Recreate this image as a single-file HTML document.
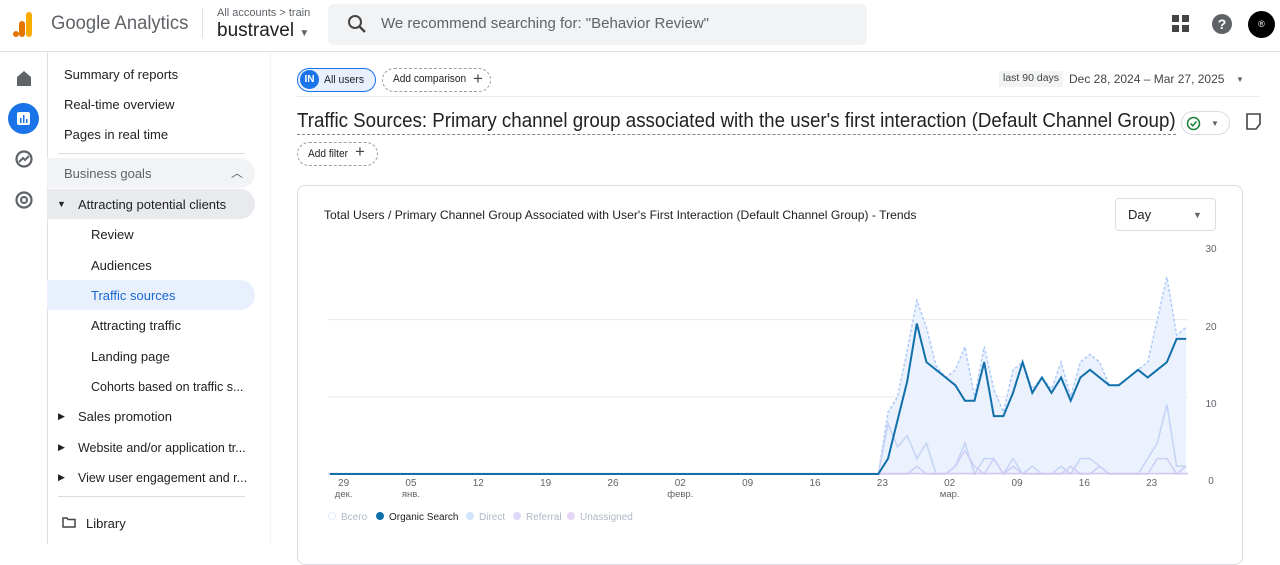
<!DOCTYPE html>
<html><head><meta charset="utf-8"><style>
*{box-sizing:border-box;margin:0;padding:0}
body{width:1280px;height:544px;overflow:hidden;background:#fff;font-family:"Liberation Sans",Arial,sans-serif;color:#202124;position:relative}
.a{position:absolute;white-space:nowrap}
.sx{display:inline-block;transform-origin:left center}
.nav{font-size:13px;color:#202124}
.ar{font-size:9px;color:#202124}
</style></head><body>
<div class="a" style="left:0;top:0;width:1280px;height:52px;border-bottom:1px solid #e0e0e0"></div>
<svg class="a" style="left:12px;top:12px" width="24" height="26"><rect x="14" y="0" width="6" height="25" rx="3" fill="#f9ab00"/><rect x="7" y="9" width="6" height="16" rx="3" fill="#e37400"/><circle cx="4" cy="22" r="3" fill="#e37400"/></svg>
<div class="a" style="left:51px;top:13px;font-size:19px;color:#5f6368"><span class="sx" style="transform:scaleX(.97)">Google Analytics</span></div>
<div class="a" style="left:202px;top:8px;width:1px;height:30px;background:#e0e0e0"></div>
<div class="a" style="left:217px;top:7px;font-size:11px;color:#5f6368">All accounts &gt; train</div>
<div class="a" style="left:217px;top:20px;font-size:19px;color:#202124">bustravel <span style="font-size:10px;color:#5f6368">▼</span></div>
<div class="a" style="left:328px;top:4px;width:539px;height:41px;background:#f1f3f4;border-radius:6px"></div>
<svg class="a" style="left:347px;top:14px" width="20" height="20"><circle cx="8" cy="8" r="6" stroke="#444" stroke-width="2" fill="none"/><line x1="12" y1="12" x2="18" y2="18" stroke="#444" stroke-width="2.4"/></svg>
<div class="a" style="left:381px;top:15px;font-size:15px;color:#5f6368">We recommend searching for: "Behavior Review"</div>
<svg class="a" style="left:1172px;top:15px" width="18" height="18"><g fill="#444"><rect x="0" y="0" width="7" height="7"/><rect x="10" y="0" width="7" height="7"/><rect x="0" y="10" width="7" height="7"/><rect x="10" y="10" width="7" height="7"/></g></svg>
<div class="a" style="left:1212px;top:14px;width:20px;height:20px;border-radius:50%;background:#5f6368;color:#fff;font-size:14px;font-weight:bold;text-align:center;line-height:20px">?</div>
<div class="a" style="left:1248px;top:11px;width:27px;height:27px;border-radius:50%;background:#000;color:#fff;font-size:9px;text-align:center;line-height:27px">®</div>
<div class="a" style="left:47px;top:52px;width:1px;height:492px;background:#e0e0e0"></div>
<svg class="a" style="left:15px;top:69px" width="18" height="18"><path d="M2 8 L9 2 L16 8 V17 H2Z" fill="#5f6368"/></svg>
<div class="a" style="left:8px;top:103px;width:31px;height:31px;border-radius:50%;background:#1a73e8"></div>
<svg class="a" style="left:16px;top:111px" width="15" height="15"><rect x="1" y="1" width="13" height="13" rx="2" fill="#fff"/><rect x="4" y="7" width="1.5" height="5" fill="#1a73e8"/><rect x="7" y="4" width="1.5" height="8" fill="#1a73e8"/><rect x="10" y="8" width="1.5" height="4" fill="#1a73e8"/></svg>
<svg class="a" style="left:14px;top:149px" width="20" height="20"><circle cx="10" cy="10" r="7.5" stroke="#5f6368" stroke-width="2.2" fill="none"/><path d="M5 13 L9 9 L11 11 L15 7" stroke="#5f6368" stroke-width="2" fill="none"/></svg>
<svg class="a" style="left:14px;top:190px" width="20" height="20"><circle cx="10" cy="10" r="7.5" stroke="#5f6368" stroke-width="2.2" fill="none"/><circle cx="10" cy="10" r="3" stroke="#5f6368" stroke-width="2" fill="none"/></svg>
<div class="a nav" style="left:64px;top:67px">Summary of reports</div>
<div class="a nav" style="left:64px;top:97px">Real-time overview</div>
<div class="a nav" style="left:64px;top:127px">Pages in real time</div>
<div class="a" style="left:58px;top:153px;width:187px;height:1px;background:#dadce0"></div>
<div class="a" style="left:47px;top:158px;width:208px;height:30px;background:#f1f3f4;border-radius:0 15px 15px 0"></div>
<div class="a nav" style="left:64px;top:166px;color:#5f6368">Business goals</div>
<div class="a" style="left:231px;top:164px;font-size:12px;color:#5f6368">︿</div>
<div class="a" style="left:47px;top:189px;width:208px;height:30px;background:#e8eaed;border-radius:0 15px 15px 0"></div>
<div class="a ar" style="left:57px;top:199px">▼</div>
<div class="a nav" style="left:78px;top:197px">Attracting potential clients</div>
<div class="a nav" style="left:91px;top:227px">Review</div>
<div class="a nav" style="left:91px;top:258px">Audiences</div>
<div class="a" style="left:47px;top:280px;width:208px;height:30px;background:#e8f0fe;border-radius:0 15px 15px 0"></div>
<div class="a nav" style="left:91px;top:288px;color:#1967d2">Traffic sources</div>
<div class="a nav" style="left:91px;top:318px">Attracting traffic</div>
<div class="a nav" style="left:91px;top:349px">Landing page</div>
<div class="a nav" style="left:91px;top:379px"><span class="sx" style="transform:scaleX(.96)">Cohorts based on traffic s...</span></div>
<div class="a ar" style="left:58px;top:411px">▶</div>
<div class="a nav" style="left:78px;top:409px">Sales promotion</div>
<div class="a ar" style="left:58px;top:442px">▶</div>
<div class="a nav" style="left:78px;top:440px"><span class="sx" style="transform:scaleX(.96)">Website and/or application tr...</span></div>
<div class="a ar" style="left:58px;top:472px">▶</div>
<div class="a nav" style="left:78px;top:470px"><span class="sx" style="transform:scaleX(.96)">View user engagement and r...</span></div>
<div class="a" style="left:58px;top:496px;width:187px;height:1px;background:#dadce0"></div>
<svg class="a" style="left:62px;top:517px" width="14" height="11"><path d="M1 1 H5 L6 2.5 H13 V10 H1Z" stroke="#444" stroke-width="1.5" fill="none"/></svg>
<div class="a nav" style="left:86px;top:516px">Library</div>
<div class="a" style="left:270px;top:52px;width:1px;height:492px;background:#f1f3f4"></div>
<div class="a" style="left:297px;top:68px;width:79px;height:24px;border:1px solid #1a73e8;border-radius:12px;background:#e8f0fe"></div>
<div class="a" style="left:300px;top:70px;width:19px;height:19px;border-radius:50%;background:#1a73e8;color:#fff;font-size:10px;font-weight:bold;text-align:center;line-height:19px">IN</div>
<div class="a" style="left:324px;top:74px;font-size:11px"><span class="sx" style="transform:scaleX(.95)">All users</span></div>
<div class="a" style="left:382px;top:68px;width:109px;height:24px;border:1px dashed #9aa0a6;border-radius:12px"></div>
<div class="a" style="left:393px;top:73px;font-size:11px"><span class="sx" style="transform:scaleX(.92)">Add comparison</span></div>
<div class="a" style="left:473px;top:69px;font-size:17px;color:#444">+</div>
<div class="a" style="left:999px;top:71px;width:64px;height:16px;background:#f1f3f4"></div>
<div class="a" style="left:1003px;top:73px;font-size:10px;color:#444"><span class="sx" style="transform:scaleX(1.05)">last 90 days</span></div>
<div class="a" style="left:1069px;top:72px;font-size:12px;color:#444"><span class="sx" style="transform:scaleX(1.0)">Dec 28, 2024 – Mar 27, 2025</span></div>
<div class="a" style="left:1236px;top:75px;font-size:8px;color:#5f6368">▼</div>
<div class="a" style="left:297px;top:96px;width:962px;height:1px;background:#e8eaed"></div>
<div class="a" style="left:297px;top:110px;font-size:20px;color:#202124"><span class="sx" style="transform:scaleX(.936)">Traffic Sources: Primary channel group associated with the user's first interaction (Default Channel Group)</span></div>
<div class="a" style="left:297px;top:110px;width:879px;height:25px;border-bottom:1.5px dashed #80868b"></div>
<div class="a" style="left:1181px;top:111px;width:49px;height:24px;border:1px solid #dadce0;border-radius:12px"></div>
<svg class="a" style="left:1186px;top:116px" width="15" height="15"><circle cx="7.5" cy="7.5" r="6" stroke="#188038" stroke-width="1.5" fill="none"/><path d="M4.5 7.5 L6.8 9.8 L10.5 5.5" stroke="#188038" stroke-width="1.5" fill="none"/></svg>
<div class="a" style="left:1211px;top:119px;font-size:8px;color:#5f6368">▼</div>
<svg class="a" style="left:1246px;top:113px" width="16" height="17"><path d="M1 1 H14 V11 L10 16 H1Z" stroke="#444" stroke-width="1.6" fill="none"/></svg>
<div class="a" style="left:297px;top:142px;width:81px;height:24px;border:1px dashed #9aa0a6;border-radius:12px"></div>
<div class="a" style="left:308px;top:148px;font-size:11px"><span class="sx" style="transform:scaleX(.92)">Add filter</span></div>
<div class="a" style="left:355px;top:142px;font-size:17px;color:#444">+</div>
<div class="a" style="left:297px;top:185px;width:946px;height:380px;border:1px solid #dadce0;border-radius:8px"></div>
<div class="a" style="left:324px;top:208px;font-size:12px;color:#202124"><span class="sx" style="transform:scaleX(1.01)">Total Users / Primary Channel Group Associated with User's First Interaction (Default Channel Group) - Trends</span></div>
<div class="a" style="left:1115px;top:198px;width:101px;height:33px;border:1px solid #dadce0;border-radius:4px"></div>
<div class="a" style="left:1128px;top:207px;font-size:13px;color:#202124">Day</div>
<div class="a" style="left:1193px;top:210px;font-size:9px;color:#5f6368">▼</div>
<svg class="a" style="left:0;top:0" width="1280" height="544" id="ch"></svg>
<script>
var org=[],tot=[],dir=[],ref=[];
for(var i=0;i<57;i++){org.push(0);tot.push(0);dir.push(0);ref.push(0);}
org=org.concat([0,2,7,12,19.5,14.5,13.5,12.5,11.5,9.5,9.5,14.5,7.5,7.5,10.5,14.5,10.5,12.5,10.5,12.5,9.5,12.5,13.5,12.5,11.5,11.5,12.5,13.5,12.5,13.5,14.5,17.5,17.5]);
tot=tot.concat([0,8,10,16,22.5,19,14,12.5,13.5,16.5,10,16.5,11,8,13.5,14.5,11,12.5,11,14.5,10,14.5,15.5,14.5,11.5,11.5,12.5,13.5,14.5,20,25.5,18,19]);
dir=dir.concat([0,6.5,3.5,5,2,4,0,0,1,4,0,2,2,0,2,0,1,0,0,1,0,2,2,1,0,0,0,0,2,4,9,1,1]);
ref=ref.concat([0,0,0,0,1,0,0,0,1,3,1,0,2,0,1,0,0,0,0,0,1,0,0,1,0,0,0,0,0,2,2,0,1]);
function X(i){return 330+i*9.62}function Y(v){return 474-v*7.72}
function pts(a){return a.map(function(v,i){return X(i).toFixed(1)+','+Y(v).toFixed(1)}).join(' ')}
var s='';
[319.6,397].forEach(function(y){s+='<line x1="328" x2="1188" y1="'+y+'" y2="'+y+'" stroke="#e8eaed"/>'});
s+='<line x1="328" x2="1188" y1="474" y2="474" stroke="#dadce0"/>';
s+='<polygon points="'+X(0)+',474 '+pts(tot)+' '+X(89)+',474" fill="#e8f0fe" opacity=".85"/>';
s+='<polyline points="'+pts(tot)+'" fill="none" stroke="#aecbfa" stroke-width="1.5" stroke-dasharray="3,2"/>';
s+='<polyline points="'+pts(dir)+'" fill="none" stroke="#c6d4f5" stroke-width="1.6"/>';
s+='<polyline points="'+pts(ref)+'" fill="none" stroke="#d2cdf5" stroke-width="1.6"/>';
s+='<line x1="328" x2="1188" y1="473.5" y2="473.5" stroke="#d7c6f3" stroke-width="1.5"/>';
s+='<polyline points="'+pts(org)+'" fill="none" stroke="#1170aa" stroke-width="2"/>';
[[30,248],[20,326],[10,403],[0,480]].forEach(function(t){s+='<text x="1211" y="'+(t[1]+4)+'" font-size="10" fill="#5f6368" text-anchor="middle" font-family="Liberation Sans">'+t[0]+'</text>'});
var lab=[['29','дек.'],['05','янв.'],['12',''],['19',''],['26',''],['02','февр.'],['09',''],['16',''],['23',''],['02','мар.'],['09',''],['16',''],['23','']];
lab.forEach(function(l,k){var x=X(1+k*7)+4;s+='<text x="'+x+'" y="486" font-size="10" fill="#5f6368" text-anchor="middle" font-family="Liberation Sans">'+l[0]+'</text>';if(l[1])s+='<text x="'+x+'" y="497" font-size="9.5" fill="#5f6368" text-anchor="middle" font-family="Liberation Sans">'+l[1]+'</text>'});
var lg=[['Всего',328,'#d2e3fc',1],['Organic Search',376,'#1170aa',0],['Direct',466,'#d2e3fc',0],['Referral',513,'#ddd8f7',0],['Unassigned',567,'#e6d6f5',0]];
lg.forEach(function(g){s+='<circle cx="'+(g[1]+4)+'" cy="516" r="3.5" fill="'+(g[3]?'none':g[2])+'" stroke="'+g[2]+'" '+(g[3]?'stroke-dasharray="1.5,1"':'')+'/>';s+='<text x="'+(g[1]+13)+'" y="520" font-size="10" fill="'+(g[2]=='#1170aa'?'#202124':'#b0b8c8')+'" font-family="Liberation Sans">'+g[0]+'</text>'});
document.getElementById('ch').innerHTML=s;
</script>
</body></html>
